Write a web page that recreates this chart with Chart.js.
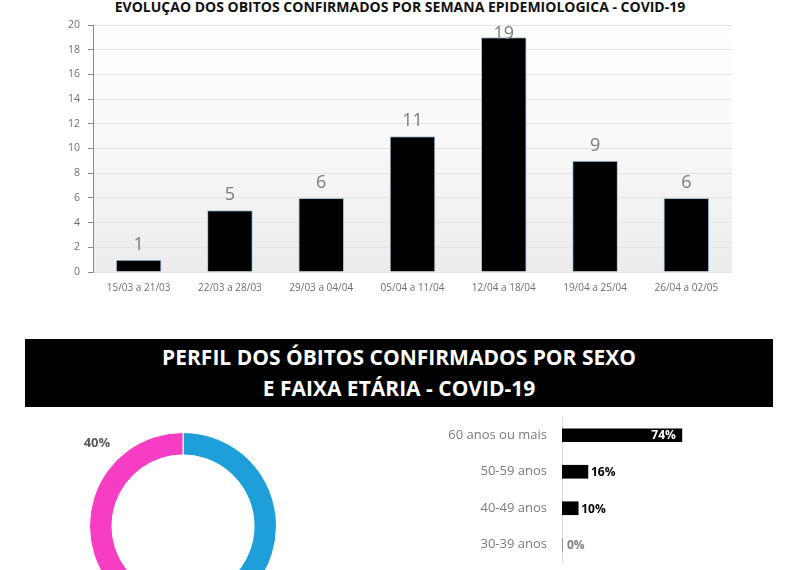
<!DOCTYPE html>
<html lang="pt-BR">
<head>
<meta charset="utf-8">
<title>Óbitos COVID-19</title>
<script src="https://cdn.jsdelivr.net/npm/chart.js@4.4.0/dist/chart.umd.min.js"></script>
<style>
    html, body { margin: 0; padding: 0; background: #fff; }
    body { position: relative; width: 800px; height: 570px; overflow: hidden; font-family: "Open Sans", sans-serif; }
    .box { position: absolute; }
    #weekTitle { left: 0; top: -3px; width: 800px; text-align: center; font-weight: bold; font-size: 14px; color: #111; }
    #banner { left: 25px; top: 339px; width: 748px; height: 68px; background: #000; color: #fff; text-align: center;
              font-weight: bold; font-size: 21px; line-height: 31px; padding-top: 3px; box-sizing: border-box; }
    #weekBox { left: 0; top: 0; }
    #sexBox { left: 0; top: 415px; }
    #ageBox { left: 400px; top: 415px; }
</style>
</head>
<body>
<div class="box" id="weekTitle">EVOLUÇAO DOS OBITOS CONFIRMADOS POR SEMANA EPIDEMIOLOGICA - COVID-19</div>
<div class="box" id="weekBox"><canvas id="weekChart" width="800" height="300"></canvas></div>
<div class="box" id="banner">PERFIL DOS ÓBITOS CONFIRMADOS POR SEXO<br>E FAIXA ETÁRIA - COVID-19</div>
<div class="box" id="sexBox"><canvas id="sexChart" width="370" height="230"></canvas></div>
<div class="box" id="ageBox"><canvas id="ageChart" width="380" height="160"></canvas></div>

<script>
// dados
const weekLabels = ['15/03 a 21/03', '22/03 a 28/03', '29/03 a 04/04', '05/04 a 11/04', '12/04 a 18/04', '19/04 a 25/04', '26/04 a 02/05'];
const weekDeaths = [1, 5, 6, 11, 19, 9, 6];
const weekAxisMax = 20;
const weekAxisStep = 2;

const sexLabels = ['Masculino', 'Feminino'];
const sexShares = [60, 40];

const ageLabels = ['60 anos ou mais', '50-59 anos', '40-49 anos', '30-39 anos'];
const ageShares = [74, 16, 10, 0];

const FONT = '"Open Sans", sans-serif';

// fundo degradê da área do gráfico
const plotBackground = {
    id: 'plotBackground',
    beforeDraw(chart) {
        const { ctx, chartArea: a } = chart;
        const g = ctx.createLinearGradient(0, a.top, 0, a.bottom);
        g.addColorStop(0, '#ffffff');
        g.addColorStop(0.45, '#f9f9f9');
        g.addColorStop(1, '#ececec');
        ctx.save();
        ctx.fillStyle = g;
        ctx.fillRect(a.left, a.top, a.right - a.left, a.bottom - a.top);
        ctx.restore();
    }
};

// rótulos acima das colunas
const weekValueLabels = {
    id: 'weekValueLabels',
    afterDatasetsDraw(chart) {
        const { ctx, chartArea: a } = chart;
        const meta = chart.getDatasetMeta(0);
        ctx.save();
        ctx.font = '18px ' + FONT;
        ctx.fillStyle = '#7a7a7a';
        ctx.textAlign = 'center';
        ctx.textBaseline = 'alphabetic';
        meta.data.forEach((bar, i) => {
            const y = Math.max(bar.y - 10, a.top + 14);
            ctx.fillText(String(weekDeaths[i]), bar.x, y);
        });
        ctx.restore();
    }
};

// rótulos das barras horizontais
const ageValueLabels = {
    id: 'ageValueLabels',
    afterDatasetsDraw(chart) {
        const ctx = chart.ctx;
        const meta = chart.getDatasetMeta(0);
        ctx.save();
        ctx.font = 'bold 12px ' + FONT;
        ctx.textBaseline = 'middle';
        meta.data.forEach((bar, i) => {
            const v = ageShares[i];
            if (v >= 40) {
                ctx.fillStyle = '#fff';
                ctx.textAlign = 'right';
                ctx.fillText(v + '%', bar.x - 6, bar.y);
            } else {
                ctx.fillStyle = v === 0 ? '#7f7f7f' : '#000';
                ctx.textAlign = 'left';
                ctx.fillText(v + '%', bar.x + (v === 0 ? 5 : 3), bar.y + 1);
            }
        });
        ctx.restore();
    }
};

// rótulo de porcentagem fora da rosca
const sexValueLabels = {
    id: 'sexValueLabels',
    afterDatasetsDraw(chart) {
        const ctx = chart.ctx;
        const meta = chart.getDatasetMeta(0);
        ctx.save();
        ctx.font = 'bold 13px ' + FONT;
        ctx.fillStyle = '#595959';
        ctx.textAlign = 'center';
        ctx.textBaseline = 'middle';
        meta.data.forEach((arc, i) => {
            const ang = arc.startAngle + 0.68 * (arc.endAngle - arc.startAngle);
            const r = arc.outerRadius + 26;
            ctx.fillText(sexShares[i] + '%', arc.x + Math.cos(ang) * r, arc.y + Math.sin(ang) * r);
        });
        ctx.restore();
    }
};

function createCharts() {
    new Chart(document.getElementById('weekChart'), {
        type: 'bar',
        data: {
            labels: weekLabels,
            datasets: [{
                data: weekDeaths,
                backgroundColor: '#000',
                borderColor: '#9cc7e2',
                borderWidth: 1,
                barPercentage: 0.5,
                categoryPercentage: 1.0
            }]
        },
        options: {
            responsive: false,
            animation: false,
            layout: { padding: { left: 0, right: 68, top: 25, bottom: 0 } },
            plugins: { legend: { display: false }, tooltip: { enabled: false } },
            scales: {
                x: {
                    grid: { display: false },
                    border: { display: false },
                    ticks: { color: '#6f6f6f', font: { family: FONT, size: 10 }, padding: 2, maxRotation: 0 },
                    afterFit(scale) { scale.height = 28; }
                },
                y: {
                    min: 0,
                    max: weekAxisMax,
                    ticks: { stepSize: weekAxisStep, color: '#6f6f6f', font: { family: FONT, size: 10.5 }, padding: 8 },
                    grid: { color: '#e3e3e3', tickColor: '#8a8a8a', tickLength: 5 },
                    border: { color: '#8a8a8a' },
                    afterFit(scale) { scale.width = 93; }
                }
            }
        },
        plugins: [plotBackground, weekValueLabels]
    });

    new Chart(document.getElementById('sexChart'), {
        type: 'doughnut',
        data: {
            labels: sexLabels,
            datasets: [{
                data: sexShares,
                backgroundColor: ['#1f9fda', '#f73dc3'],
                borderColor: '#fff',
                borderWidth: 1
            }]
        },
        options: {
            responsive: false,
            animation: false,
            cutout: '76%',
            layout: { padding: { left: 89, top: 17, right: 93, bottom: 25 } },
            plugins: { legend: { display: false }, tooltip: { enabled: false } }
        },
        plugins: [sexValueLabels]
    });

    new Chart(document.getElementById('ageChart'), {
        type: 'bar',
        data: {
            labels: ageLabels,
            datasets: [{
                data: ageShares,
                backgroundColor: '#000',
                barThickness: 13
            }]
        },
        options: {
            responsive: false,
            animation: false,
            indexAxis: 'y',
            layout: { padding: { left: 0, right: 56, top: 2, bottom: 12 } },
            plugins: { legend: { display: false }, tooltip: { enabled: false } },
            scales: {
                x: { display: false, min: 0, max: 100 },
                y: {
                    grid: { display: false, drawTicks: false },
                    border: { color: '#dcdcdc' },
                    ticks: { color: '#7a7a7a', font: { family: FONT, size: 13 }, padding: 15 },
                    afterFit(scale) {
                        scale.width = 162;
                        scale.paddingTop = 0;
                        scale.paddingBottom = 0;
                    }
                }
            }
        },
        plugins: [ageValueLabels]
    });
}

document.addEventListener('DOMContentLoaded', createCharts);
</script>
</body>
</html>
